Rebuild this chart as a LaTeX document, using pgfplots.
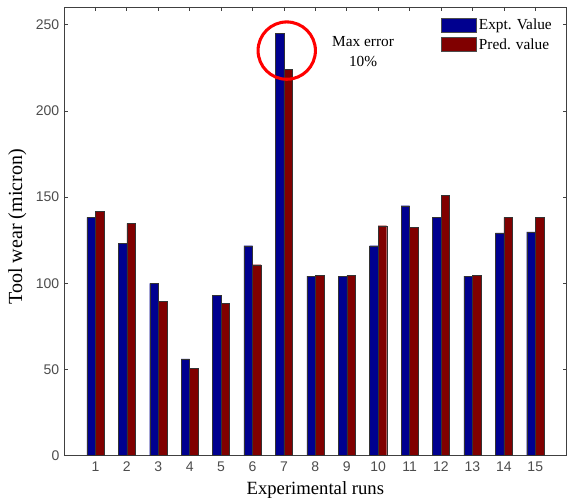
\documentclass[border=0pt]{standalone}
\usepackage{pgfplots}
\pgfplotsset{compat=1.18}
\usepackage{fontspec}
\setmainfont{Liberation Serif}
\newfontfamily\tickfont{Liberation Sans}
\definecolor{mblue}{rgb}{0,0,0.5625}
\definecolor{mred}{rgb}{0.5,0,0}
\definecolor{tickgray}{rgb}{0.3,0.3,0.3}
\pgfplotstableread{
run expt pred
1 138.3 141.9
2 123.0 134.8
3 100.0 89.6
4 56.1 50.5
5 93.2 88.4
6 121.8 110.8
7 245.0 224.1
8 104.1 104.6
9 104.1 104.6
10 121.8 133.4
11 145.0 132.3
12 138.3 151.2
13 104.1 104.6
14 129.2 138.3
15 129.9 138.3
}\datatable
\begin{document}
\begin{tikzpicture}
\begin{axis}[
  scale only axis,
  width=377pt, height=336.5pt,
  xmin=0, xmax=16, ymin=0, ymax=260.3,
  ybar=0pt, bar width=6.4pt,
  xtick={1,...,15},
  ytick={0,50,...,250},
  tick align=inside,
  major tick length=3pt,
  axis line style={draw=black!75, line width=0.6pt},
  every tick/.style={draw=black!75, line width=0.5pt},
  /pgf/number format/assume math mode=true,
  tick label style={font=\tickfont\fontsize{10.5}{12}\selectfont, text=tickgray},
  xticklabel style={yshift=-1pt},
  xlabel={Experimental runs},
  ylabel={Tool wear (micron)},
  xlabel style={at={(axis description cs:0.5,0)}, anchor=center, yshift=-25.7pt, font=\fontsize{14}{16}\selectfont},
  ylabel style={at={(axis description cs:-0.0928,0.51)}, anchor=center, font=\fontsize{15}{17}\selectfont},
  legend style={draw=none, fill=none, at={(1,1)}, anchor=north east, xshift=-8pt, yshift=-6pt,
    font=\fontsize{11.5}{13}\selectfont, row sep=1pt, inner sep=1pt},
  legend cell align=left,
  legend image code/.code={\draw[#1, draw=black!70] (0pt,-5pt) rectangle (26pt,5.5pt);},
  clip=false,
]
\addplot[fill=mblue, draw=black!80, line width=0.25pt] table[x=run, y=expt] {\datatable};
\addplot[fill=mred, draw=black!80, line width=0.25pt] table[x=run, y=pred] {\datatable};
\legend{Expt. Value, Pred. value}
\draw[red, line width=2.3pt] (axis cs:7.09,235) circle [radius=21.5pt];
\node[align=center, font=\fontsize{11.5}{15}\selectfont] at (axis cs:9.52,234.2) {Max error\\10\%};
\end{axis}
\pgfresetboundingbox
\useasboundingbox (-48pt,-34.75pt) rectangle (378pt,341.75pt);
\end{tikzpicture}
\end{document}
